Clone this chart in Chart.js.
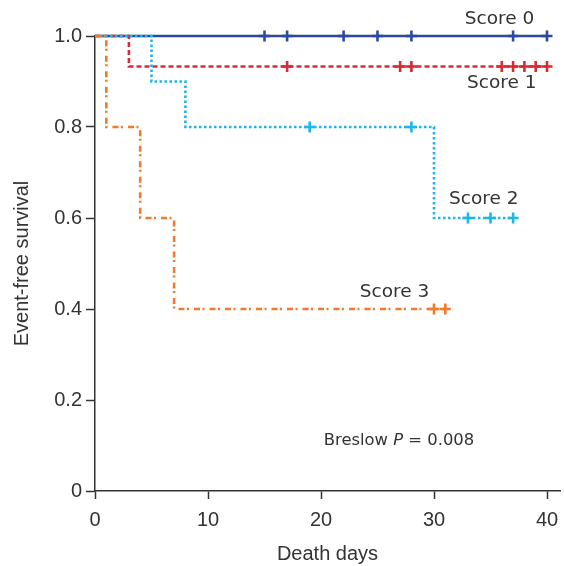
<!DOCTYPE html>
<html>
<head>
<meta charset="utf-8">
<script src="https://cdn.jsdelivr.net/npm/chart.js@4"></script>
<style>
html,body{margin:0;padding:0;background:#fff;overflow:hidden;}
canvas{display:block;}
</style>
</head>
<body>
<canvas id="km" width="564" height="566"></canvas>
<script>
// survival steps (time in days, survival proportion)
const score0Time = [0, 40];
const score0Surv = [1, 1];
const score0Cens = [15, 17, 22, 25, 28, 37, 40];

const score1Time = [0, 3, 40];
const score1Surv = [1, 0.933, 0.933];
const score1Cens = [17, 27, 28, 36, 37, 38, 39, 40];

const score2Time = [0, 5, 8, 30, 37];
const score2Surv = [1, 0.9, 0.8, 0.6, 0.6];
const score2Cens = [19, 28, 33, 35, 37];

const score3Time = [0, 1, 4, 7, 31];
const score3Surv = [1, 0.8, 0.6, 0.4, 0.4];
const score3Cens = [30, 31];

const groupNames = ["Score 0", "Score 1", "Score 2", "Score 3"];
const xTicks = [0, 10, 20, 30, 40];
const yTicks = [0, 0.2, 0.4, 0.6, 0.8, 1.0];

// label placement (data coords)
const notes = [
  {text: "Score 0", x: 35.8, y: 1.038},
  {text: "Score 1", x: 36.0, y: 0.897},
  {text: "Score 2", x: 34.4, y: 0.642},
  {text: "Score 3", x: 26.5, y: 0.438}
];

const groups = [
  {t: score0Time, s: score0Surv, c: score0Cens, color: "#2b4a9d", dash: [], order: 4},
  {t: score1Time, s: score1Surv, c: score1Cens, color: "#d92a35", dash: [5, 3], order: 3},
  {t: score2Time, s: score2Surv, c: score2Cens, color: "#1cb6ea", dash: [2.5, 2.5], order: 2},
  {t: score3Time, s: score3Surv, c: score3Cens, color: "#f27a2b", dash: [6, 2.5, 2, 5], order: 1}
];

function survAt(g, day){
  let v = g.s[0];
  for(let i=0;i<g.t.length;i++){ if(g.t[i] <= day) v = g.s[i]; }
  return v;
}

let datasets = [];
groups.forEach((g, i)=>{
  datasets.push({
    label: groupNames[i],
    data: g.t.map((d, k)=>({x: d, y: g.s[k]})),
    borderColor: g.color,
    borderWidth: 2.6,
    borderDash: g.dash,
    stepped: true,
    pointRadius: 0,
    fill: false,
    clip: false,
    order: g.order
  });
  datasets.push({
    label: groupNames[i] + " censored",
    data: g.c.map(d=>({x: d, y: survAt(g, d)})),
    showLine: false,
    pointStyle: "cross",
    pointRadius: 5.5,
    pointBorderWidth: 2.6,
    borderColor: g.color,
    backgroundColor: g.color,
    clip: false,
    order: g.order
  });
});

const FONT = "'DejaVu Sans'";

const textPlugin = {
  id: "notes",
  afterDatasetsDraw(chart){
    const ctx = chart.ctx, xs = chart.scales.x, ys = chart.scales.y;
    ctx.save();
    ctx.fillStyle = "#333";
    ctx.textAlign = "center";
    ctx.textBaseline = "middle";
    ctx.font = "18.5px " + FONT;
    notes.forEach(n=>{
      ctx.fillText(n.text, xs.getPixelForValue(n.x), ys.getPixelForValue(n.y));
    });
    // Breslow P = 0.008
    const px = xs.getPixelForValue(26.9), py = ys.getPixelForValue(0.11);
    const a = "Breslow ", b = "P", c = " = 0.008";
    const up = "16.4px " + FONT, it = "italic 16.4px " + FONT;
    ctx.font = up;
    const wa = ctx.measureText(a).width, wc = ctx.measureText(c).width;
    ctx.font = it;
    const wb = ctx.measureText(b).width;
    let x0 = px - (wa + wb + wc) / 2;
    ctx.textAlign = "left";
    ctx.font = up;
    ctx.fillText(a, x0, py);
    ctx.font = it;
    ctx.fillText(b, x0 + wa, py);
    ctx.font = up;
    ctx.fillText(c, x0 + wa + wb, py);
    ctx.restore();
  }
};

new Chart(document.getElementById("km"), {
  type: "line",
  data: {datasets: datasets},
  plugins: [textPlugin],
  options: {
    responsive: false,
    animation: false,
    layout: {autoPadding: false, padding: {top: 36, right: 4, left: 0, bottom: 0}},
    plugins: {legend: {display: false}, tooltip: {enabled: false}},
    scales: {
      x: {
        type: "linear",
        min: 0,
        max: 41.15,
        afterBuildTicks: s=>{ s.ticks = xTicks.map(v=>({value: v})); },
        afterFit: s=>{ s.height = 75; s.paddingRight = 0; s.paddingLeft = 0; },
        grid: {drawOnChartArea: false, color: "#333", tickLength: 8, tickWidth: 1.5},
        border: {color: "#333", width: 1.5},
        ticks: {color: "#333", padding: 9, font: {family: "'Liberation Sans'", size: 20}},
        title: {display: true, text: "Death days", color: "#333", padding: {top: 4, bottom: 0}, font: {family: "'Liberation Sans'", size: 20}}
      },
      y: {
        min: 0,
        max: 1,
        afterBuildTicks: s=>{ s.ticks = yTicks.map(v=>({value: v})); },
        afterFit: s=>{ s.width = 95; },
        grid: {drawOnChartArea: false, color: "#333", tickLength: 9, tickWidth: 1.5},
        border: {color: "#333", width: 1.5},
        ticks: {color: "#333", padding: 4, font: {family: "'Liberation Sans'", size: 20},
          callback: v=> v === 0 ? "0" : v.toFixed(1)},
        title: {display: true, text: "Event-free survival", color: "#333", padding: {top: 10, bottom: 0}, font: {family: "'Liberation Sans'", size: 20}}
      }
    }
  }
});
</script>
</body>
</html>
